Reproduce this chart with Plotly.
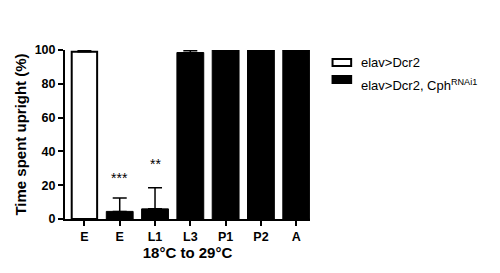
import plotly.graph_objects as go

stages = ["E", "E", "L1", "L3", "P1", "P2", "A"]
control_values = [99.0]
control_err = [0.6]
rnai_values = [4.5, 6.0, 98.5, 100.0, 100.0, 100.0]
rnai_err = [8.0, 12.5, 1.2, 0.0, 0.0, 0.0]
stars = ["***", "**"]
star_y = [18.5, 26.5]

xpos = list(range(len(stages)))
FONT = "Liberation Sans, Arial, sans-serif"

# page body adds 8px offset; compensate in margins
L, T, PW, PH = 52, 42, 250, 169

def px(sx):
    return (sx - 8 - L) / PW

def py(sy):
    return (T + 8 + PH - sy) / PH

fig = go.Figure()
fig.add_trace(go.Bar(
    x=xpos[:1], y=control_values,
    error_y=dict(type="data", array=control_err, arrayminus=[0], color="black", thickness=1.5, width=7),
    marker=dict(color="white", line=dict(color="black", width=2)),
    width=0.72, showlegend=False,
))
fig.add_trace(go.Bar(
    x=xpos[1:], y=rnai_values,
    error_y=dict(type="data", array=rnai_err, arrayminus=[0]*len(rnai_err), color="black", thickness=1.5, width=7),
    marker=dict(color="black", line=dict(color="black", width=1)),
    width=0.76, showlegend=False,
))

for i, (s, yv) in enumerate(zip(stars, star_y)):
    fig.add_annotation(x=xpos[1 + i], y=yv, text=s, showarrow=False,
                       font=dict(family=FONT, size=14, color="black"), yanchor="bottom")

# legend (manual)
fig.add_shape(type="rect", xref="paper", yref="paper", x0=px(333), x1=px(352), y0=py(59), y1=py(66),
              line=dict(color="black", width=2), fillcolor="white")
fig.add_shape(type="rect", xref="paper", yref="paper", x0=px(333), x1=px(352), y0=py(76), y1=py(83),
              line=dict(color="black", width=2), fillcolor="black")
fig.add_annotation(xref="paper", yref="paper", x=px(360), y=py(63), text="elav>Dcr2", showarrow=False,
                   xanchor="left", yanchor="middle", font=dict(family=FONT, size=13, color="black"))
fig.add_annotation(xref="paper", yref="paper", x=px(360), y=py(85),
                   text="elav>Dcr2, Cph<sup>RNAi1</sup>", showarrow=False,
                   xanchor="left", yanchor="middle", font=dict(family=FONT, size=13, color="black"))

fig.update_layout(
    width=500, height=273,
    margin=dict(l=L, r=500 - L - PW, t=T, b=273 - T - PH),
    paper_bgcolor="white", plot_bgcolor="white",
    barmode="overlay",
    font=dict(family=FONT, color="black"),
)
fig.update_xaxes(
    range=[-0.55, 6.39], tickvals=xpos, ticktext=stages,
    showline=True, linecolor="black", linewidth=2, ticks="outside", ticklen=5, tickwidth=1.5,
    tickcolor="black", showgrid=False, zeroline=False,
    tickfont=dict(family=FONT, size=12.5, weight="bold"),
    title=dict(text="18°C to 29°C", font=dict(family=FONT, size=15, weight="bold"), standoff=4),
)
fig.update_yaxes(
    range=[0, 100], tickvals=[0, 20, 40, 60, 80, 100],
    showline=True, linecolor="black", linewidth=2, ticks="outside", ticklen=5, tickwidth=1.5,
    tickcolor="black", showgrid=False, zeroline=False,
    tickfont=dict(family=FONT, size=12.5, weight="bold"),
    title=dict(text="Time spent upright (%)", font=dict(family=FONT, size=15, weight="bold"), standoff=4),
)
fig.write_html("out.html")
